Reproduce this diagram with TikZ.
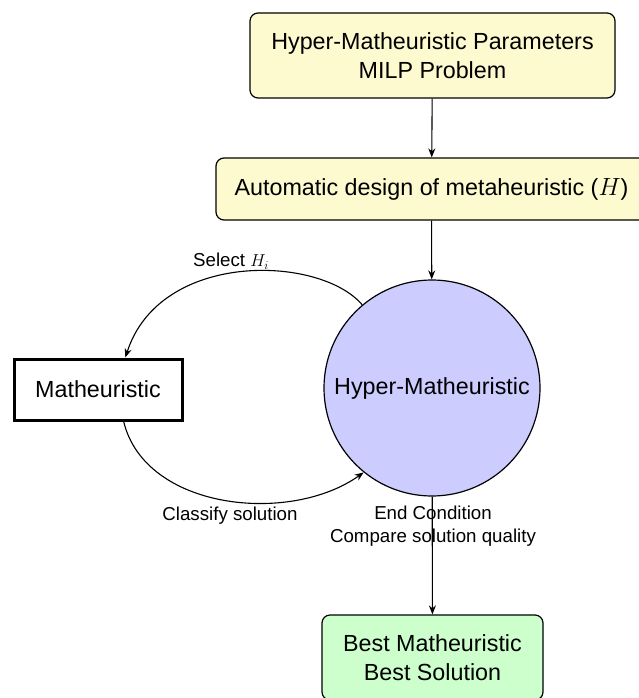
\documentclass[tikz,border=0pt]{standalone}
\usepackage{fontspec}
\setmainfont{Liberation Sans}
\usetikzlibrary{arrows.meta,calc}
\definecolor{boxyellow}{HTML}{FDFAD0}
\definecolor{circblue}{HTML}{CCCCFF}
\definecolor{boxgreen}{HTML}{CCFFCC}
\tikzset{
  big/.style={font=\fontsize{23.3}{28.5}\selectfont},
  lbl/.style={font=\fontsize{18.7}{23}\selectfont, align=center, inner sep=0pt},
  rbox/.style={draw, line width=1.2pt, rounded corners=8pt, align=center, inner sep=0pt, big},
  arr/.style={-{Stealth[length=9pt,width=7pt]}, line width=1.1pt},
}
\begin{document}
\begin{tikzpicture}[x=1pt,y=-1pt]
\useasboundingbox (0,0) rectangle (639,698);
\clip (0,0) rectangle (639,698);
\node[rbox, fill=boxyellow, minimum width=365pt, minimum height=85pt] (top) at (432.5,55.5) {Hyper-Matheuristic Parameters\\MILP Problem};
\node[rbox, fill=boxyellow, minimum width=431pt, minimum height=62pt] (auto) at (431.5,189) {Automatic design of metaheuristic ($H$)};
\node[draw, circle, fill=circblue, line width=1.2pt, minimum size=216pt, inner sep=0pt, big] (hyper) at (432,388) {\raisebox{-2pt}{Hyper-Matheuristic}};
\node[draw, line width=3pt, minimum width=168pt, minimum height=61pt, inner sep=0pt, big] (math) at (98,389.5) {Matheuristic};
\node[rbox, fill=boxgreen, minimum width=221pt, minimum height=85pt] (best) at (432.5,657.5) {Best Matheuristic\\Best Solution};
\draw[arr] (top) -- (auto);
\draw[arr] (auto) -- (hyper);
\draw[arr] (hyper) -- (best);
\coordinate (mtop) at ($(math.north west)!0.66!(math.north east)$);
\coordinate (mbot) at ($(math.south west)!0.65!(math.south east)$);
\draw[arr] (hyper.130) .. controls (320,255) and (160,250) .. (mtop);
\draw[arr] (mbot) .. controls (145,510) and (290,525) .. (hyper.231.5);
\node[lbl] (sel) at (231,261) {Select $H_i$};
\node[lbl] (cls) at (230,516) {Classify solution};
\node[lbl] (endc) at (433,526.5) {End Condition\\Compare solution quality};
\end{tikzpicture}
\end{document}
